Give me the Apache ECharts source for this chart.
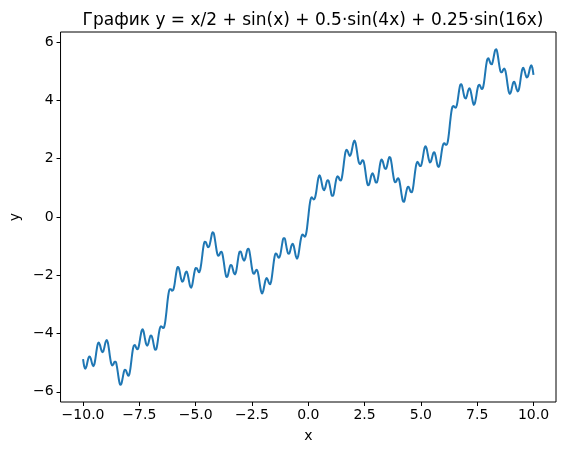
<!DOCTYPE html>
<html>
<head>
<meta charset="utf-8">
<script src="https://cdn.jsdelivr.net/npm/echarts@6/dist/echarts.min.js"></script>
<style>
  html, body { margin: 0; padding: 0; background: #fff; }
  #chart { width: 565px; height: 455px; }
</style>
</head>
<body>
<div id="chart"></div>
<script>
const xs = [
  -10, -9.95, -9.9, -9.85, -9.8, -9.75, -9.7, -9.65, -9.6, -9.55,
  -9.5, -9.45, -9.4, -9.35, -9.3, -9.25, -9.2, -9.15, -9.1, -9.05,
  -9, -8.95, -8.9, -8.85, -8.8, -8.75, -8.7, -8.65, -8.6, -8.55,
  -8.5, -8.45, -8.4, -8.35, -8.3, -8.25, -8.2, -8.15, -8.1, -8.05,
  -8, -7.95, -7.9, -7.85, -7.8, -7.75, -7.7, -7.65, -7.6, -7.55,
  -7.5, -7.45, -7.4, -7.35, -7.3, -7.25, -7.2, -7.15, -7.1, -7.05,
  -7, -6.95, -6.9, -6.85, -6.8, -6.75, -6.7, -6.65, -6.6, -6.55,
  -6.5, -6.45, -6.4, -6.35, -6.3, -6.25, -6.2, -6.15, -6.1, -6.05,
  -6, -5.95, -5.9, -5.85, -5.8, -5.75, -5.7, -5.65, -5.6, -5.55,
  -5.5, -5.45, -5.4, -5.35, -5.3, -5.25, -5.2, -5.15, -5.1, -5.05,
  -5, -4.95, -4.9, -4.85, -4.8, -4.75, -4.7, -4.65, -4.6, -4.55,
  -4.5, -4.45, -4.4, -4.35, -4.3, -4.25, -4.2, -4.15, -4.1, -4.05,
  -4, -3.95, -3.9, -3.85, -3.8, -3.75, -3.7, -3.65, -3.6, -3.55,
  -3.5, -3.45, -3.4, -3.35, -3.3, -3.25, -3.2, -3.15, -3.1, -3.05,
  -3, -2.95, -2.9, -2.85, -2.8, -2.75, -2.7, -2.65, -2.6, -2.55,
  -2.5, -2.45, -2.4, -2.35, -2.3, -2.25, -2.2, -2.15, -2.1, -2.05,
  -2, -1.95, -1.9, -1.85, -1.8, -1.75, -1.7, -1.65, -1.6, -1.55,
  -1.5, -1.45, -1.4, -1.35, -1.3, -1.25, -1.2, -1.15, -1.1, -1.05,
  -1, -0.95, -0.9, -0.85, -0.8, -0.75, -0.7, -0.65, -0.6, -0.55,
  -0.5, -0.45, -0.4, -0.35, -0.3, -0.25, -0.2, -0.15, -0.1, -0.05,
  0, 0.05, 0.1, 0.15, 0.2, 0.25, 0.3, 0.35, 0.4, 0.45,
  0.5, 0.55, 0.6, 0.65, 0.7, 0.75, 0.8, 0.85, 0.9, 0.95,
  1, 1.05, 1.1, 1.15, 1.2, 1.25, 1.3, 1.35, 1.4, 1.45,
  1.5, 1.55, 1.6, 1.65, 1.7, 1.75, 1.8, 1.85, 1.9, 1.95,
  2, 2.05, 2.1, 2.15, 2.2, 2.25, 2.3, 2.35, 2.4, 2.45,
  2.5, 2.55, 2.6, 2.65, 2.7, 2.75, 2.8, 2.85, 2.9, 2.95,
  3, 3.05, 3.1, 3.15, 3.2, 3.25, 3.3, 3.35, 3.4, 3.45,
  3.5, 3.55, 3.6, 3.65, 3.7, 3.75, 3.8, 3.85, 3.9, 3.95,
  4, 4.05, 4.1, 4.15, 4.2, 4.25, 4.3, 4.35, 4.4, 4.45,
  4.5, 4.55, 4.6, 4.65, 4.7, 4.75, 4.8, 4.85, 4.9, 4.95,
  5, 5.05, 5.1, 5.15, 5.2, 5.25, 5.3, 5.35, 5.4, 5.45,
  5.5, 5.55, 5.6, 5.65, 5.7, 5.75, 5.8, 5.85, 5.9, 5.95,
  6, 6.05, 6.1, 6.15, 6.2, 6.25, 6.3, 6.35, 6.4, 6.45,
  6.5, 6.55, 6.6, 6.65, 6.7, 6.75, 6.8, 6.85, 6.9, 6.95,
  7, 7.05, 7.1, 7.15, 7.2, 7.25, 7.3, 7.35, 7.4, 7.45,
  7.5, 7.55, 7.6, 7.65, 7.7, 7.75, 7.8, 7.85, 7.9, 7.95,
  8, 8.05, 8.1, 8.15, 8.2, 8.25, 8.3, 8.35, 8.4, 8.45,
  8.5, 8.55, 8.6, 8.65, 8.7, 8.75, 8.8, 8.85, 8.9, 8.95,
  9, 9.05, 9.1, 9.15, 9.2, 9.25, 9.3, 9.35, 9.4, 9.45,
  9.5, 9.55, 9.6, 9.65, 9.7, 9.75, 9.8, 9.85, 9.9, 9.95,
  10
];

const ys = [
  -4.88, -5.12, -5.21, -5.13, -4.96, -4.82, -4.79, -4.88, -5.03, -5.12,
  -5.06, -4.85, -4.58, -4.37, -4.31, -4.39, -4.54, -4.64, -4.61, -4.46,
  -4.29, -4.22, -4.31, -4.54, -4.82, -5.03, -5.10, -5.05, -4.97, -4.97,
  -5.12, -5.37, -5.62, -5.76, -5.73, -5.56, -5.36, -5.24, -5.26, -5.36,
  -5.45, -5.41, -5.21, -4.90, -4.60, -4.42, -4.39, -4.47, -4.54, -4.51,
  -4.34, -4.10, -3.91, -3.85, -3.97, -4.18, -4.36, -4.42, -4.34, -4.18,
  -4.07, -4.09, -4.23, -4.43, -4.56, -4.54, -4.35, -4.08, -3.85, -3.75,
  -3.77, -3.81, -3.78, -3.59, -3.27, -2.90, -2.61, -2.48, -2.48, -2.53,
  -2.51, -2.37, -2.11, -1.86, -1.72, -1.75, -1.91, -2.11, -2.22, -2.19,
  -2.05, -1.91, -1.87, -1.98, -2.18, -2.37, -2.43, -2.33, -2.10, -1.88,
  -1.75, -1.76, -1.84, -1.90, -1.82, -1.59, -1.28, -0.99, -0.85, -0.86,
  -0.96, -1.04, -1.01, -0.86, -0.66, -0.52, -0.55, -0.74, -1.00, -1.23,
  -1.33, -1.30, -1.21, -1.19, -1.31, -1.55, -1.83, -2.03, -2.06, -1.94,
  -1.76, -1.65, -1.66, -1.79, -1.93, -1.97, -1.86, -1.62, -1.35, -1.19,
  -1.18, -1.30, -1.44, -1.50, -1.43, -1.26, -1.11, -1.09, -1.23, -1.49,
  -1.76, -1.93, -1.95, -1.87, -1.81, -1.86, -2.05, -2.32, -2.54, -2.63,
  -2.54, -2.35, -2.17, -2.09, -2.15, -2.26, -2.31, -2.22, -1.97, -1.65,
  -1.38, -1.25, -1.27, -1.36, -1.40, -1.32, -1.12, -0.88, -0.73, -0.73,
  -0.89, -1.10, -1.25, -1.26, -1.15, -0.99, -0.92, -0.98, -1.16, -1.35,
  -1.43, -1.35, -1.12, -0.85, -0.66, -0.60, -0.64, -0.68, -0.59, -0.35,
  0.00, 0.35, 0.59, 0.68, 0.64, 0.60, 0.66, 0.85, 1.12, 1.35,
  1.43, 1.35, 1.16, 0.98, 0.92, 0.99, 1.15, 1.26, 1.25, 1.10,
  0.89, 0.73, 0.73, 0.88, 1.12, 1.32, 1.40, 1.36, 1.27, 1.25,
  1.38, 1.65, 1.97, 2.22, 2.31, 2.26, 2.15, 2.09, 2.17, 2.35,
  2.54, 2.63, 2.54, 2.32, 2.05, 1.86, 1.81, 1.87, 1.95, 1.93,
  1.76, 1.49, 1.23, 1.09, 1.11, 1.26, 1.43, 1.50, 1.44, 1.30,
  1.18, 1.19, 1.35, 1.62, 1.86, 1.97, 1.93, 1.79, 1.66, 1.65,
  1.76, 1.94, 2.06, 2.03, 1.83, 1.55, 1.31, 1.19, 1.21, 1.30,
  1.33, 1.23, 1.00, 0.74, 0.55, 0.52, 0.66, 0.86, 1.01, 1.04,
  0.96, 0.86, 0.85, 0.99, 1.28, 1.59, 1.82, 1.90, 1.84, 1.76,
  1.75, 1.88, 2.10, 2.33, 2.43, 2.37, 2.18, 1.98, 1.87, 1.91,
  2.05, 2.19, 2.22, 2.11, 1.91, 1.75, 1.72, 1.86, 2.11, 2.37,
  2.51, 2.53, 2.48, 2.48, 2.61, 2.90, 3.27, 3.59, 3.78, 3.81,
  3.77, 3.75, 3.85, 4.08, 4.35, 4.54, 4.56, 4.43, 4.23, 4.09,
  4.07, 4.18, 4.34, 4.42, 4.36, 4.18, 3.97, 3.85, 3.91, 4.10,
  4.34, 4.51, 4.54, 4.47, 4.39, 4.42, 4.60, 4.90, 5.21, 5.41,
  5.45, 5.36, 5.26, 5.24, 5.36, 5.56, 5.73, 5.76, 5.62, 5.37,
  5.12, 4.97, 4.97, 5.05, 5.10, 5.03, 4.82, 4.54, 4.31, 4.22,
  4.29, 4.46, 4.61, 4.64, 4.54, 4.39, 4.31, 4.37, 4.58, 4.85,
  5.06, 5.12, 5.03, 4.88, 4.79, 4.82, 4.96, 5.13, 5.21, 5.12,
  4.88
];

const xTicks = [-10, -7.5, -5, -2.5, 0, 2.5, 5, 7.5, 10];
const yTicks = [-6, -4, -2, 0, 2, 4, 6];

const font = "DejaVu Sans";
const minus = s => String(s).replace("-", "\u2212");

let myChart = echarts.init(document.getElementById("chart"));

let option = {
  animation: false,
  backgroundColor: "#fff",
  title: {
    text: "График y = x/2 + sin(x) + 0.5·sin(4x) + 0.25·sin(16x)",
    left: 308,
    top: 7,
    textAlign: "center",
    textStyle: { fontFamily: font, fontSize: 17, fontWeight: "normal", color: "#000" }
  },
  grid: {
    left: 60, right: 9, top: 32, bottom: 53,
    show: true, borderColor: "#000", borderWidth: 1
  },
  xAxis: {
    type: "value",
    min: -11,
    max: 11,
    name: "x",
    nameLocation: "middle",
    nameGap: 27,
    nameTextStyle: { fontFamily: font, fontSize: 14, color: "#000" },
    axisLine: { show: false, onZero: false },
    splitLine: { show: false },
    axisTick: { show: true, length: 4, customValues: xTicks, lineStyle: { color: "#000" } },
    axisLabel: {
      customValues: xTicks,
      margin: 6,
      fontFamily: font, fontSize: 14, color: "#000",
      formatter: v => minus(v.toFixed(1))
    }
  },
  yAxis: {
    type: "value",
    min: -6.35,
    max: 6.35,
    name: "y",
    nameLocation: "middle",
    nameGap: 38,
    nameTextStyle: { fontFamily: font, fontSize: 14, color: "#000" },
    axisLine: { show: false, onZero: false },
    splitLine: { show: false },
    axisTick: { show: true, length: 4, customValues: yTicks, lineStyle: { color: "#000" } },
    axisLabel: {
      customValues: yTicks,
      margin: 7,
      fontFamily: font, fontSize: 14, color: "#000",
      formatter: v => minus(v)
    }
  },
  series: [{
    type: "line",
    data: xs.map((x, i) => [x, ys[i]]),
    showSymbol: false,
    smooth: 0.3,
    lineStyle: { color: "#1f77b4", width: 2 },
    itemStyle: { color: "#1f77b4" }
  }]
};

myChart.setOption(option);
</script>
</body>
</html>
